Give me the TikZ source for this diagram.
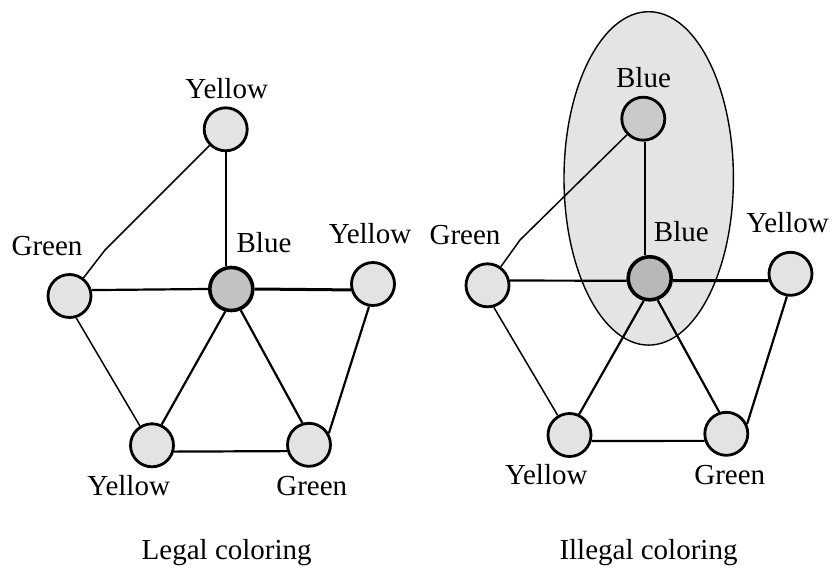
\documentclass[tikz,border=0pt]{standalone}
\usepackage{fontspec}
\setmainfont{Liberation Serif}
\usetikzlibrary{shapes.geometric}
\begin{document}
\begin{tikzpicture}[x=1pt,y=-1pt,
  vertex/.style={circle,draw=black,line width=2.8pt,fill=nodegray,inner sep=0pt,minimum size=43pt},
  bluevertex/.style={vertex,fill=bluegray,line width=3.6pt},
  lab/.style={anchor=base,inner sep=0pt,font=\fontsize{29}{34}\selectfont},
  edge/.style={line width=2.2pt},
  thinedge/.style={line width=1.5pt},
  thickedge/.style={line width=3pt}]
\definecolor{nodegray}{HTML}{E3E3E3}
\definecolor{bluegray}{HTML}{C2C2C2}
\definecolor{bluetop}{HTML}{CACACA}
\definecolor{zonegray}{HTML}{E4E4E4}
\useasboundingbox (0,0) rectangle (834,567);

% ---------- legal colouring ----------
\node[vertex] (ty) at (225.7,129.3) {};
\node[vertex] (gl) at (69.5,296) {};
\node[bluevertex] (bc) at (231.3,289) {};
\node[vertex] (yr) at (373,284) {};
\node[vertex] (yb) at (152,445.3) {};
\node[vertex] (gb) at (309,444.8) {};
\coordinate (k1) at (105,250);

\draw[thinedge] (ty) -- (k1) -- (gl);
\draw[edge] (ty.south) -- (ty.south |- bc.north);
\draw[edge] (gl.15) -- (bc.west);
\draw[thickedge] (bc.east) -- (yr.195);
\draw[edge] (yr.-100) -- (gb.30);
\draw[edge] (bc.-105) -- (yb.65);
\draw[edge] (bc.-66) -- (gb.107);
\draw[thinedge] (gl.-73) -- (yb.122);
\draw[edge] (yb.-16) -- (gb.196);

\node[lab] (lty) at (226.7,99) {Yellow};
\node[lab] (lgl) at (47,255) {Green};
\node[lab] (lbc) at (264,252.7) {Blue};
\node[lab] (lyr) at (370,243.3) {Yellow};
\node[lab] (lyb) at (128.7,495) {Yellow};
\node[lab] (lgb) at (311.8,495) {Green};
\node[lab] (cap1) at (226.7,559.5) {Legal coloring};

% ---------- illegal colouring ----------
\node[draw=black,line width=1.4pt,fill=zonegray,ellipse,inner sep=0pt,
      minimum width=169.4pt,minimum height=333.4pt] (zone) at (648.7,178.4) {};

\coordinate (k2) at (520,240);

\node[vertex,fill=bluetop] (tb) at (643.3,118.7) {};
\node[vertex] (gl2) at (487.5,285.3) {};
\node[bluevertex,fill=bluegray!95!black] (bc2) at (649.7,278.3) {};
\node[vertex] (yr2) at (790.5,273.8) {};
\node[vertex] (yb2) at (569.5,435) {};
\node[vertex] (gb2) at (726.3,433.8) {};

\draw[thinedge] (tb) -- (k2) -- (gl2);
\draw[edge] ([xshift=2pt]tb.south) -- ([xshift=2pt]tb.south |- bc2.north);
\draw[edge] (gl2.12) -- (bc2.186);
\draw[thickedge] (bc2.-6) -- (yr2.197);
\draw[edge] (yr2.-99) -- (gb2.25);
\draw[edge] (bc2.-105) -- (yb2.65);
\draw[edge] (bc2.-70) -- (gb2.108);
\draw[thinedge] (gl2.-74) -- (yb2.121);
\draw[edge] (yb2.-15) -- (gb2.198);

\node[lab] (ltb) at (643.5,87.3) {Blue};
\node[lab] (lgl2) at (465,244.3) {Green};
\node[lab] (lbc2) at (681.3,241) {Blue};
\node[lab] (lyr2) at (787.5,232.7) {Yellow};
\node[lab] (lyb2) at (546.3,484.3) {Yellow};
\node[lab] (lgb2) at (729.8,484.3) {Green};
\node[lab] (cap2) at (648.5,559.5) {Illegal coloring};
\end{tikzpicture}
\end{document}
